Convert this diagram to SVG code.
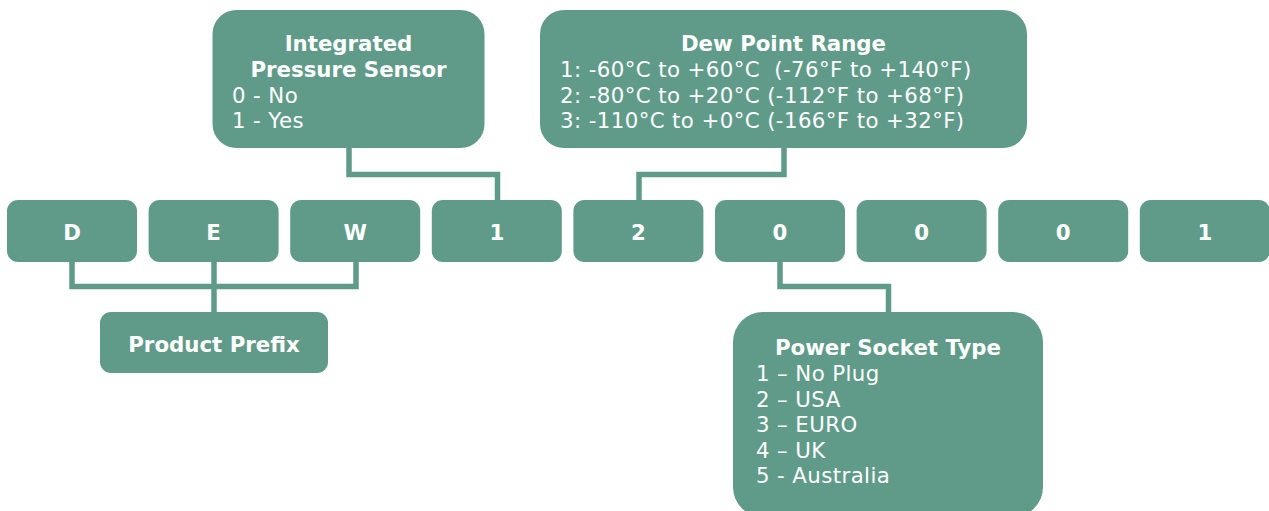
<svg xmlns="http://www.w3.org/2000/svg" width="1269" height="511" viewBox="0 0 1269 511">
<style>
.box{fill:#609b89}
.t{fill:#ffffff;font-family:"DejaVu Sans","Verdana",sans-serif;font-size:21.3px}
.b{font-weight:bold;text-anchor:middle}
.r{letter-spacing:0.4px}
.c{fill:none;stroke:#609b89;stroke-width:5.5;stroke-linejoin:miter}
</style>
<rect width="1269" height="511" fill="#ffffff"/>
<g id="connectors">
<polyline class="c" points="72,262 72,286.5 356,286.5 356,262"/>
<polyline class="c" points="214,262 214,313"/>
<polyline class="c" points="349,147 349,174.5 497.5,174.5 497.5,201"/>
<polyline class="c" points="784,147 784,174.5 639,174.5 639,201"/>
<polyline class="c" points="780,261 780,286.5 888.5,286.5 888.5,313"/>
</g>
<g id="node-D"><rect class="box" x="7" y="200" width="130" height="62" rx="11"/><text class="t b" x="72" y="240">D</text></g>
<g id="node-E"><rect class="box" x="148.6" y="200" width="130" height="62" rx="11"/><text class="t b" x="213.6" y="240">E</text></g>
<g id="node-W"><rect class="box" x="290.2" y="200" width="130" height="62" rx="11"/><text class="t b" x="355.2" y="240">W</text></g>
<g id="node-1a"><rect class="box" x="431.8" y="200" width="130" height="62" rx="11"/><text class="t b" x="496.8" y="240">1</text></g>
<g id="node-2"><rect class="box" x="573.4" y="200" width="130" height="62" rx="11"/><text class="t b" x="638.4" y="240">2</text></g>
<g id="node-0a"><rect class="box" x="715" y="200" width="130" height="62" rx="11"/><text class="t b" x="780" y="240">0</text></g>
<g id="node-0b"><rect class="box" x="856.6" y="200" width="130" height="62" rx="11"/><text class="t b" x="921.6" y="240">0</text></g>
<g id="node-0c"><rect class="box" x="998.2" y="200" width="130" height="62" rx="11"/><text class="t b" x="1063.2" y="240">0</text></g>
<g id="node-1b"><rect class="box" x="1139.8" y="200" width="130" height="62" rx="11"/><text class="t b" x="1204.8" y="240">1</text></g>
<g id="node-product-prefix"><rect class="box" x="100" y="312" width="228" height="61" rx="11"/><text class="t b" x="214" y="352">Product Prefix</text></g>
<g id="node-pressure"><rect class="box" x="212.5" y="10" width="272" height="138" rx="24"/>
<text class="t b" x="348.5" y="51">Integrated</text>
<text class="t b" x="348.5" y="77">Pressure Sensor</text>
<text class="t r" x="232" y="103">0 - No</text>
<text class="t r" x="232" y="128">1 - Yes</text>
</g>
<g id="node-dewpoint"><rect class="box" x="540" y="10" width="487" height="138" rx="24"/>
<text class="t b" x="783.5" y="51">Dew Point Range</text>
<text class="t r" x="560" y="77" xml:space="preserve">1: -60°C to +60°C  (-76°F to +140°F)</text>
<text class="t r" x="560" y="103">2: -80°C to +20°C (-112°F to +68°F)</text>
<text class="t r" x="560" y="128">3: -110°C to +0°C (-166°F to +32°F)</text>
</g>
<g id="node-power"><rect class="box" x="733" y="312" width="310" height="205" rx="30"/>
<text class="t b" x="888" y="355">Power Socket Type</text>
<text class="t r" x="756" y="381">1 – No Plug</text>
<text class="t r" x="756" y="406.5">2 – USA</text>
<text class="t r" x="756" y="432">3 – EURO</text>
<text class="t r" x="756" y="457.5">4 – UK</text>
<text class="t r" x="756" y="483">5 - Australia</text>
</g>
</svg>
